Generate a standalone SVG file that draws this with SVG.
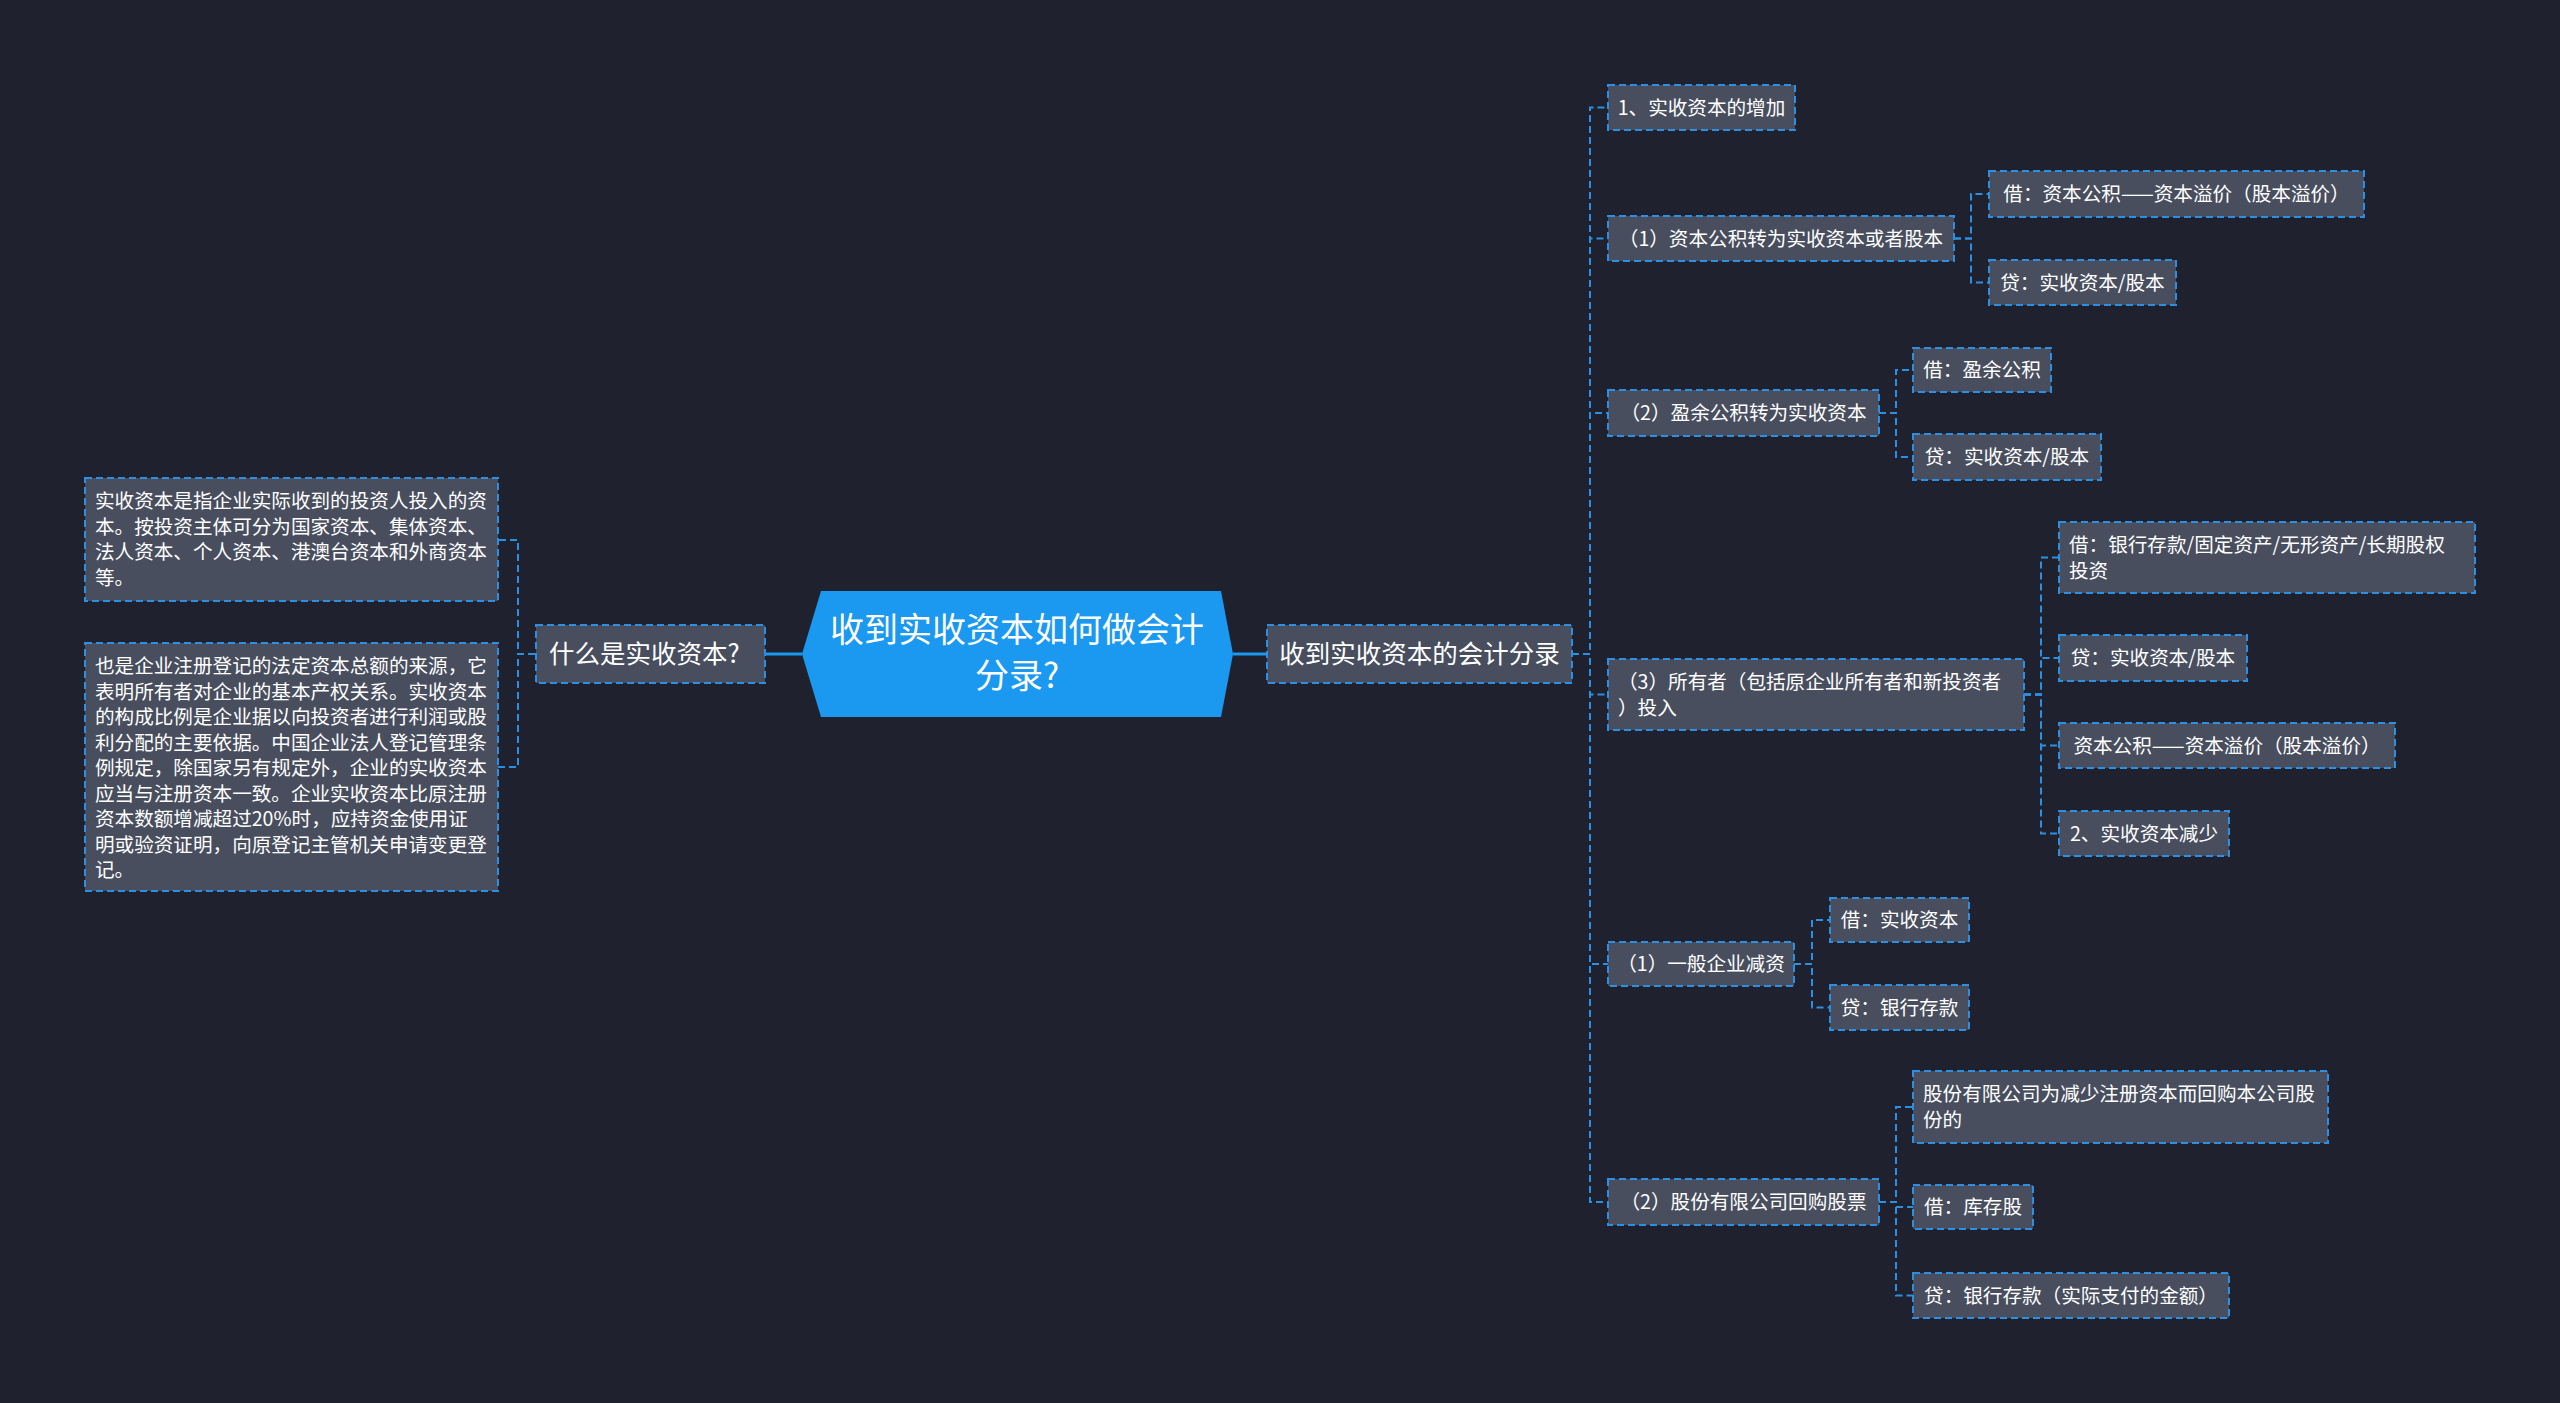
<svg xmlns="http://www.w3.org/2000/svg" width="2560" height="1403" viewBox="0 0 2560 1403">
<style>
.bg{fill:#1f222e}
.n rect{fill:#484e5e;stroke:#2b8fe4;stroke-width:2;stroke-dasharray:7 4}
.t{fill:#ffffff;font-family:"Noto Sans CJK SC","Noto Sans",sans-serif;font-size:19.6px}
.tc{text-anchor:middle}
.t2{font-size:25.5px}
.c{fill:none;stroke:#2b8fe4;stroke-width:2;stroke-dasharray:7 4}
.s{fill:none;stroke:#1b98ef;stroke-width:3}
</style>
<rect class="bg" x="0" y="0" width="2560" height="1403"/>
<g id="connectors">
<path class="s" d="M802 654 H766"/>
<path class="s" d="M1233 654 H1267"/>
<path class="c" d="M535 654 H518 V540 H498"/>
<path class="c" d="M535 654 H518 V767 H498"/>
<path class="c" d="M1572 654 H1590 V107.5 H1608"/>
<path class="c" d="M1572 654 H1590 V238.5 H1608"/>
<path class="c" d="M1572 654 H1590 V413 H1608"/>
<path class="c" d="M1572 654 H1590 V694.5 H1608"/>
<path class="c" d="M1572 654 H1590 V964 H1608"/>
<path class="c" d="M1572 654 H1590 V1202 H1608"/>
<path class="c" d="M1954 238.5 H1971 V194 H1989"/>
<path class="c" d="M1954 238.5 H1971 V282.5 H1989"/>
<path class="c" d="M1879 413 H1896 V370 H1913"/>
<path class="c" d="M1879 413 H1896 V457 H1913"/>
<path class="c" d="M2024 694.5 H2041 V557.5 H2059"/>
<path class="c" d="M2024 694.5 H2041 V658 H2059"/>
<path class="c" d="M2024 694.5 H2041 V745.5 H2059"/>
<path class="c" d="M2024 694.5 H2041 V833.5 H2059"/>
<path class="c" d="M1794 964 H1812 V920 H1830"/>
<path class="c" d="M1794 964 H1812 V1007.5 H1830"/>
<path class="c" d="M1879 1202 H1896 V1107 H1913"/>
<path class="c" d="M1879 1202 H1896 V1207 H1913"/>
<path class="c" d="M1879 1202 H1896 V1295.5 H1913"/>
</g>
<g id="root">
<polygon points="821,591 1221,591 1233,654 1221,717 821,717 802,654" fill="#1b98ef"/>
<text class="t tc" style="font-size:34px" x="1017" y="642">收到实收资本如何做会计</text>
<text class="t tc" style="font-size:34px" x="1017" y="688">分录?</text>
</g>
<g id="what" class="n">
<rect x="536" y="625" width="229" height="58"/>
<text class="t t2" x="549" y="663">什么是实收资本?</text>
</g>
<g id="def1" class="n">
<rect x="85" y="478" width="413" height="123"/>
<text class="t" x="95" y="508">实收资本是指企业实际收到的投资人投入的资</text>
<text class="t" x="95" y="534">本。按投资主体可分为国家资本、集体资本、</text>
<text class="t" x="95" y="559">法人资本、个人资本、港澳台资本和外商资本</text>
<text class="t" x="95" y="585">等。</text>
</g>
<g id="def2" class="n">
<rect x="85" y="643" width="413" height="248"/>
<text class="t" x="95" y="673">也是企业注册登记的法定资本总额的来源&#xFF0C;它</text>
<text class="t" x="95" y="699">表明所有者对企业的基本产权关系。实收资本</text>
<text class="t" x="95" y="724">的构成比例是企业据以向投资者进行利润或股</text>
<text class="t" x="95" y="750">利分配的主要依据。中国企业法人登记管理条</text>
<text class="t" x="95" y="775">例规定&#xFF0C;除国家另有规定外&#xFF0C;企业的实收资本</text>
<text class="t" x="95" y="801">应当与注册资本一致。企业实收资本比原注册</text>
<text class="t" x="95" y="826">资本数额增减超过20%时&#xFF0C;应持资金使用证</text>
<text class="t" x="95" y="852">明或验资证明&#xFF0C;向原登记主管机关申请变更登</text>
<text class="t" x="95" y="877">记。</text>
</g>
<g id="entries" class="n">
<rect x="1267" y="625" width="305" height="58"/>
<text class="t t2 tc" x="1419.5" y="663">收到实收资本的会计分录</text>
</g>
<g id="nA" class="n">
<rect x="1608" y="85" width="187" height="45"/>
<text class="t tc" x="1701.5" y="114.5">1、实收资本的增加</text>
</g>
<g id="nB" class="n">
<rect x="1608" y="216" width="346" height="45"/>
<text class="t tc" x="1781" y="245.5">&#xFF08;1&#xFF09;资本公积转为实收资本或者股本</text>
</g>
<g id="nB1" class="n">
<rect x="1989" y="171" width="375" height="46"/>
<text class="t tc" x="2176.5" y="201">借&#xFF1A;资本公积——资本溢价&#xFF08;股本溢价&#xFF09;</text>
</g>
<g id="nB2" class="n">
<rect x="1989" y="260" width="187" height="45"/>
<text class="t tc" x="2082.5" y="289.5">贷&#xFF1A;实收资本/股本</text>
</g>
<g id="nC" class="n">
<rect x="1608" y="390" width="271" height="46"/>
<text class="t tc" x="1743.5" y="420">&#xFF08;2&#xFF09;盈余公积转为实收资本</text>
</g>
<g id="nC1" class="n">
<rect x="1913" y="348" width="138" height="44"/>
<text class="t tc" x="1982" y="377">借&#xFF1A;盈余公积</text>
</g>
<g id="nC2" class="n">
<rect x="1913" y="434" width="188" height="46"/>
<text class="t tc" x="2007" y="464">贷&#xFF1A;实收资本/股本</text>
</g>
<g id="nD" class="n">
<rect x="1608" y="659" width="416" height="71"/>
<text class="t" x="1618" y="689">&#xFF08;3&#xFF09;所有者&#xFF08;包括原企业所有者和新投资者</text>
<text class="t" x="1618" y="715">&#xFF09;投入</text>
</g>
<g id="nD1" class="n">
<rect x="2059" y="522" width="416" height="71"/>
<text class="t" x="2069" y="552">借&#xFF1A;银行存款/固定资产/无形资产/长期股权</text>
<text class="t" x="2069" y="578">投资</text>
</g>
<g id="nD2" class="n">
<rect x="2059" y="635" width="188" height="46"/>
<text class="t tc" x="2153" y="665">贷&#xFF1A;实收资本/股本</text>
</g>
<g id="nD3" class="n">
<rect x="2059" y="723" width="336" height="45"/>
<text class="t tc" x="2227" y="752.5">资本公积——资本溢价&#xFF08;股本溢价&#xFF09;</text>
</g>
<g id="nD4" class="n">
<rect x="2059" y="811" width="170" height="45"/>
<text class="t tc" x="2144" y="840.5">2、实收资本减少</text>
</g>
<g id="nE" class="n">
<rect x="1608" y="942" width="186" height="44"/>
<text class="t tc" x="1701" y="971">&#xFF08;1&#xFF09;一般企业减资</text>
</g>
<g id="nE1" class="n">
<rect x="1830" y="898" width="139" height="44"/>
<text class="t tc" x="1899.5" y="927">借&#xFF1A;实收资本</text>
</g>
<g id="nE2" class="n">
<rect x="1830" y="985" width="139" height="45"/>
<text class="t tc" x="1899.5" y="1014.5">贷&#xFF1A;银行存款</text>
</g>
<g id="nF" class="n">
<rect x="1608" y="1179" width="271" height="46"/>
<text class="t tc" x="1743.5" y="1209">&#xFF08;2&#xFF09;股份有限公司回购股票</text>
</g>
<g id="nF1" class="n">
<rect x="1913" y="1071" width="415" height="72"/>
<text class="t" x="1923" y="1101">股份有限公司为减少注册资本而回购本公司股</text>
<text class="t" x="1923" y="1127">份的</text>
</g>
<g id="nF2" class="n">
<rect x="1913" y="1185" width="120" height="44"/>
<text class="t tc" x="1973" y="1214">借&#xFF1A;库存股</text>
</g>
<g id="nF3" class="n">
<rect x="1913" y="1273" width="316" height="45"/>
<text class="t tc" x="2071" y="1302.5">贷&#xFF1A;银行存款&#xFF08;实际支付的金额&#xFF09;</text>
</g>
</svg>
